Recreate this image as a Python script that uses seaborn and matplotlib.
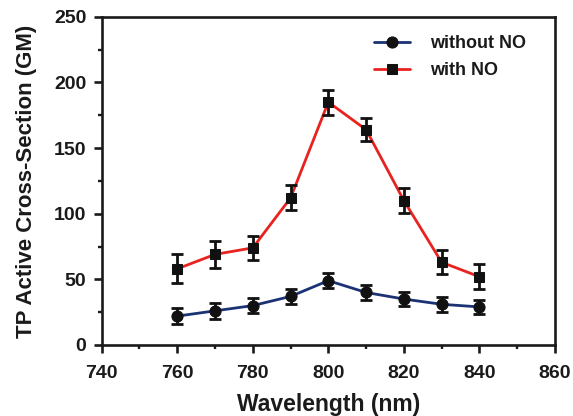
import matplotlib
matplotlib.use("Agg")
import matplotlib.pyplot as plt
import seaborn as sns
import pandas as pd
from matplotlib.ticker import MultipleLocator

wavelength = [760, 770, 780, 790, 800, 810, 820, 830, 840]
without_no = [22, 26, 30, 37, 49, 40, 35, 31, 29]
without_no_err = [6, 6, 6, 5.5, 5.5, 6, 5.5, 5.5, 5.5]
with_no = [58, 69, 74, 112, 185, 164, 110, 63, 52]
with_no_err = [11, 10, 9, 9.5, 9.5, 9, 9.3, 9.2, 9.7]

sns.set_theme(style="ticks")
plt.rcParams["font.family"] = ["Liberation Sans", "DejaVu Sans"]
plt.rcParams["font.weight"] = "bold"

df = pd.DataFrame({
    "Wavelength": wavelength * 2,
    "GM": without_no + with_no,
    "err": without_no_err + with_no_err,
    "series": ["without NO"] * len(wavelength) + ["with NO"] * len(wavelength),
})

fig = plt.figure(figsize=(5.73, 4.16), dpi=100)
ax = fig.add_axes([0.1775, 0.1707, 0.791, 0.789])

palette = {"without NO": "#1b3375", "with NO": "#e8231f"}
markers = {"without NO": "o", "with NO": "s"}
msizes = {"without NO": 8, "with NO": 7.5}

for name in ["without NO", "with NO"]:
    sub = df[df.series == name]
    sns.lineplot(data=sub, x="Wavelength", y="GM", ax=ax, color=palette[name],
                 marker=markers[name], markersize=msizes[name], markerfacecolor="#111111",
                 markeredgecolor="#111111", linewidth=2.0, label=name, legend=False)
    ax.errorbar(sub["Wavelength"], sub["GM"], yerr=sub["err"], fmt="none",
                ecolor="#111111", elinewidth=2.0, capsize=4, capthick=2.0, zorder=3)

ax.set_xlim(740, 860)
ax.set_ylim(0, 250)
ax.xaxis.set_major_locator(MultipleLocator(20))
ax.xaxis.set_minor_locator(MultipleLocator(10))
ax.yaxis.set_major_locator(MultipleLocator(50))
ax.yaxis.set_minor_locator(MultipleLocator(25))

for s in ax.spines.values():
    s.set_linewidth(1.9)
    s.set_color("#1a1a1a")
ax.tick_params(which="major", direction="out", length=6, width=1.9, color="#1a1a1a",
               labelsize=14, top=False, right=False, labelcolor="#1a1a1a")
ax.tick_params(axis="y", which="major", pad=5)
ax.tick_params(axis="x", which="major", pad=8.5)
ax.tick_params(which="minor", direction="out", length=3, width=1.7, color="#1a1a1a",
               top=False, right=False)
for lab in ax.get_xticklabels() + ax.get_yticklabels():
    lab.set_fontweight("bold")

ax.set_xlabel("Wavelength (nm)", fontsize=16.5, fontweight="bold", labelpad=7.5, color="#1a1a1a")
ax.set_ylabel("TP Active Cross-Section (GM)", fontsize=16, fontweight="bold", labelpad=12, color="#1a1a1a")

h = [l for l in ax.get_lines() if l.get_label() in ("without NO", "with NO")]
leg = ax.legend(handles=h, labels=[l.get_label() for l in h], loc="upper left",
                bbox_to_anchor=(0.566, 0.994), frameon=False, fontsize=13,
                handlelength=1.95, handletextpad=1.1, labelspacing=0.55)
for t in leg.get_texts():
    t.set_fontweight("bold")
    t.set_color("#1a1a1a")

fig.savefig("out.png", dpi=100)
